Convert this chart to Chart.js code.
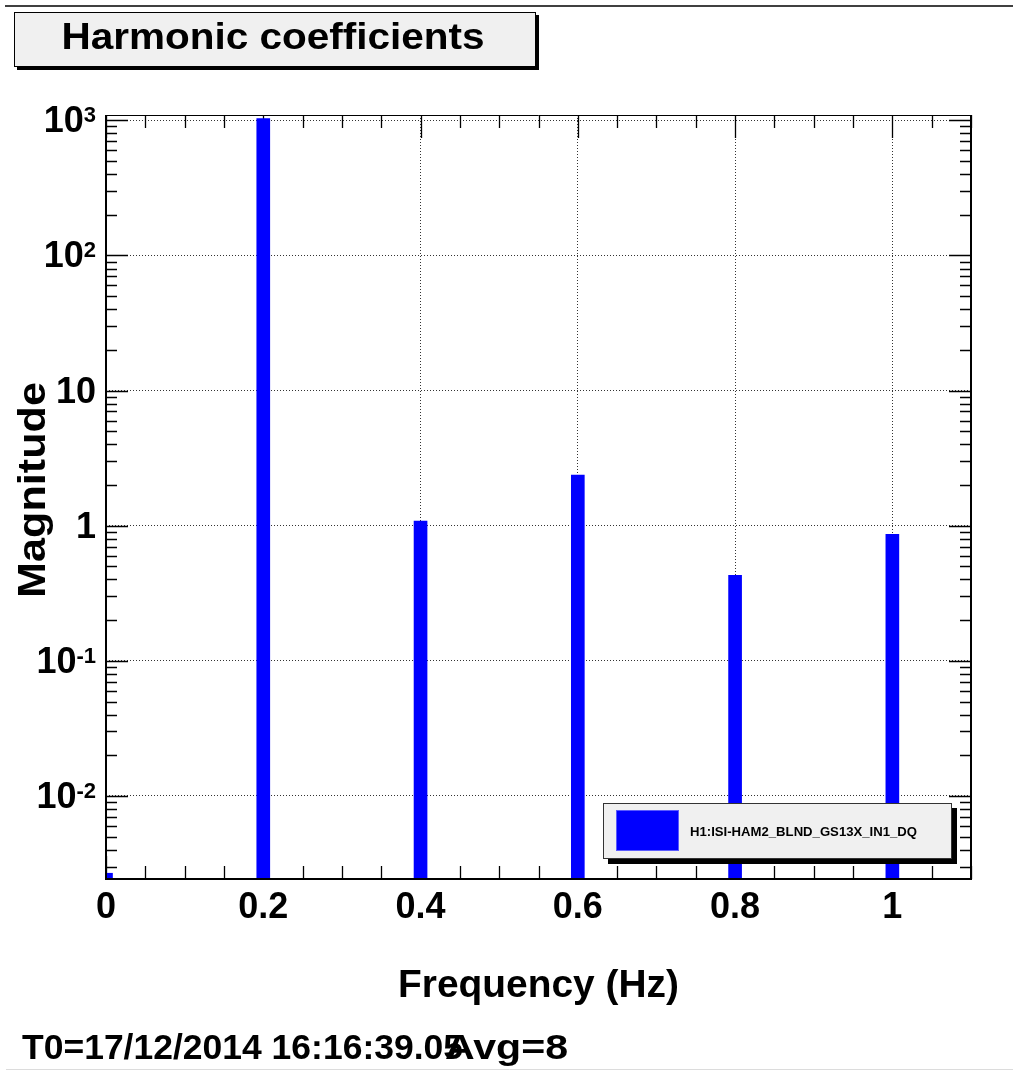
<!DOCTYPE html>
<html>
<head>
<meta charset="utf-8">
<script src="https://cdn.jsdelivr.net/npm/chart.js@4/dist/chart.umd.min.js"></script>
<style>
html,body{margin:0;padding:0;background:#fff;}
#wrap{position:relative;width:1013px;height:1072px;}
</style>
</head>
<body>
<div id="wrap"><canvas id="c"></canvas></div>
<script>
// ---- data ----
const frequencies = [0, 0.2, 0.4, 0.6, 0.8, 1.0];
const magnitudes = [0.00268, 1030, 1.08, 2.37, 0.429, 0.862];
const xTickValues = [0, 0.2, 0.4, 0.6, 0.8, 1];
const xTickLabels = ['0', '0.2', '0.4', '0.6', '0.8', '1'];
const yTickExponents = [-2, -1, 0, 1, 2, 3];
const seriesName = 'H1:ISI-HAM2_BLND_GS13X_IN1_DQ';
const titleText = 'Harmonic coefficients';
const xTitle = 'Frequency (Hz)';
const yTitle = 'Magnitude';
const footLeft = 'T0=17/12/2014 16:16:39.05';
const footRight = 'Avg=8';

const FONT = '"Liberation Sans", Arial, Helvetica, sans-serif';

function txt(ctx, s, x, y, size, align, targetW) {
  ctx.save();
  ctx.font = 'bold ' + size + 'px ' + FONT;
  ctx.textBaseline = 'alphabetic';
  ctx.fillStyle = '#000';
  const w = ctx.measureText(s).width;
  const sx = targetW ? targetW / w : 1;
  const realW = w * sx;
  let left = x;
  if (align === 'center') left = x - realW / 2;
  else if (align === 'right') left = x - realW;
  ctx.translate(left, y);
  ctx.scale(sx, 1);
  ctx.textAlign = 'left';
  ctx.fillText(s, 0, 0);
  ctx.restore();
  return realW;
}

const ticksPlugin = {
  id: 'rootTicks',
  beforeDatasetsDraw(chart) {
    const ctx = chart.ctx, a = chart.chartArea;
    const xs = chart.scales.x, ys = chart.scales.y;
    ctx.save();
    ctx.strokeStyle = '#000';
    ctx.lineWidth = 1.3;
    ctx.beginPath();
    for (let i = 0; i <= 22; i++) {
      const v = i * 0.05;
      if (v > xs.max + 1e-9) break;
      const px = Math.round(xs.getPixelForValue(v)) + 0.5;
      const major = (i % 4 === 0);
      const L = major ? 23 : 13;
      ctx.moveTo(px, a.bottom); ctx.lineTo(px, a.bottom - L);
      ctx.moveTo(px, a.top); ctx.lineTo(px, a.top + L);
    }
    for (let e = -3; e <= 3; e++) {
      for (let k = 1; k <= 9; k++) {
        const v = k * Math.pow(10, e);
        if (v < ys.min || v > ys.max) continue;
        const py = Math.round(ys.getPixelForValue(v)) + 0.5;
        const L = k === 1 ? 22 : 11;
        ctx.moveTo(a.left, py); ctx.lineTo(a.left + L, py);
        ctx.moveTo(a.right, py); ctx.lineTo(a.right - L, py);
      }
    }
    ctx.stroke();
    ctx.restore();
  },
  afterDraw(chart) {
    const ctx = chart.ctx, a = chart.chartArea;
    const xs = chart.scales.x, ys = chart.scales.y;
    ctx.save();
    // frame
    ctx.strokeStyle = '#000';
    ctx.lineWidth = 2;
    ctx.beginPath();
    ctx.moveTo(a.left, a.top); ctx.lineTo(a.left, a.bottom); ctx.lineTo(a.right, a.bottom); ctx.lineTo(a.right, a.top);
    ctx.stroke();
    ctx.lineWidth = 1;
    ctx.beginPath();
    ctx.moveTo(a.left, a.top + 0.5); ctx.lineTo(a.right, a.top + 0.5);
    ctx.stroke();

    // top rule line and bottom light line
    ctx.strokeStyle = '#000';
    ctx.lineWidth = 1.5;
    ctx.beginPath(); ctx.moveTo(5, 6); ctx.lineTo(1013, 6); ctx.stroke();
    ctx.strokeStyle = '#dcdcdc';
    ctx.lineWidth = 1;
    ctx.beginPath(); ctx.moveTo(6, 1069.5); ctx.lineTo(1013, 1069.5); ctx.stroke();

    // title box
    ctx.fillStyle = '#000';
    ctx.fillRect(17, 15, 522, 55);
    ctx.fillStyle = '#f0f0f0';
    ctx.fillRect(14, 12, 522, 55);
    ctx.strokeStyle = '#000';
    ctx.lineWidth = 1;
    ctx.strokeRect(14.5, 12.5, 521, 54);
    txt(ctx, titleText, 273, 49, 36, 'center', 423);

    // x tick labels
    xTickValues.forEach((v, i) => {
      txt(ctx, xTickLabels[i], xs.getPixelForValue(v), 918, 36, 'center', null);
    });
    // y tick labels
    yTickExponents.forEach(e => {
      const py = ys.getPixelForValue(Math.pow(10, e));
      const right = 96;
      if (e === 0) { txt(ctx, '1', right, py + 12, 36, 'right'); return; }
      if (e === 1) { txt(ctx, '10', right, py + 12, 36, 'right'); return; }
      const sup = String(e);
      ctx.save();
      ctx.font = 'bold 22px ' + FONT;
      const sw = ctx.measureText(sup).width;
      ctx.restore();
      txt(ctx, sup, right, py + 2, 22, 'right');
      txt(ctx, '10', right - sw, py + 12, 36, 'right');
    });

    // axis titles
    txt(ctx, xTitle, (a.left + a.right) / 2, 997, 39, 'center', 281);
    ctx.save();
    ctx.translate(45, 490);
    ctx.rotate(-Math.PI / 2);
    txt(ctx, yTitle, 0, 0, 39, 'center', 216);
    ctx.restore();

    // legend
    ctx.fillStyle = '#000';
    ctx.fillRect(608, 808, 349, 56);
    ctx.fillStyle = '#f0f0f0';
    ctx.fillRect(603, 803, 349, 56);
    ctx.strokeStyle = '#333';
    ctx.lineWidth = 1;
    ctx.strokeRect(603.5, 803.5, 348, 55);
    ctx.fillStyle = '#0000ff';
    ctx.fillRect(616, 810, 63, 41);
    ctx.strokeStyle = '#5a5aff';
    ctx.strokeRect(616.5, 810.5, 62, 40);
    txt(ctx, seriesName, 690, 836, 13, 'left', 227);

    // footer texts
    txt(ctx, footLeft, 22, 1059, 35, 'left', 441);
    txt(ctx, footRight, 445, 1059, 35, 'left', 123);
    ctx.restore();
  }
};

const chart = new Chart(document.getElementById('c'), {
  type: 'bar',
  data: {
    datasets: [{
      label: seriesName,
      data: frequencies.map((f, i) => ({ x: f, y: magnitudes[i] })),
      backgroundColor: '#0000ff',
      borderWidth: 0,
      barThickness: 13,
      clip: 0
    }]
  },
  options: {
    responsive: true,
    maintainAspectRatio: false,
    devicePixelRatio: 1,
    animation: false,
    layout: { padding: { left: 106, top: 115, right: 42, bottom: 193 } },
    plugins: { legend: { display: false }, title: { display: false }, tooltip: { enabled: false } },
    scales: {
      x: {
        type: 'linear',
        min: 0, max: 1.1,
        offset: false,
        afterBuildTicks: s => { s.ticks = xTickValues.map(v => ({ value: v })); },
        afterFit: s => { s.height = 0; },
        ticks: { display: false },
        border: { display: false, dash: [1, 2] },
        grid: { color: '#333', lineWidth: 1, drawTicks: false, offset: false }
      },
      y: {
        type: 'logarithmic',
        min: 0.00243, max: 1094,
        afterBuildTicks: s => { s.ticks = yTickExponents.map(e => ({ value: Math.pow(10, e) })); },
        afterFit: s => { s.width = 0; },
        ticks: { display: false },
        border: { display: false, dash: [1, 2] },
        grid: { color: '#333', lineWidth: 1, drawTicks: false }
      }
    }
  },
  plugins: [ticksPlugin]
});
</script>
</body>
</html>
